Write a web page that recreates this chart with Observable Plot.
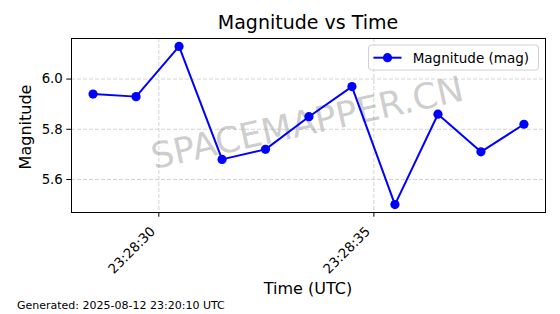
<!DOCTYPE html>
<html><head><meta charset="utf-8">
<script src="https://cdn.jsdelivr.net/npm/d3@7"></script>
<script src="https://cdn.jsdelivr.net/npm/@observablehq/plot@0.6"></script>
<style>body{margin:0;background:#fff}svg{display:block}</style>
</head><body><div id="chart"></div>
<script>
const times = ["2025-08-12T23:28:28.470Z","2025-08-12T23:28:29.470Z","2025-08-12T23:28:30.470Z","2025-08-12T23:28:31.470Z","2025-08-12T23:28:32.480Z","2025-08-12T23:28:33.490Z","2025-08-12T23:28:34.490Z","2025-08-12T23:28:35.490Z","2025-08-12T23:28:36.490Z","2025-08-12T23:28:37.490Z","2025-08-12T23:28:38.490Z"];
const magnitudes = [5.94,5.93,6.13,5.68,5.72,5.85,5.97,5.50,5.86,5.71,5.82];
const xTicks = ["2025-08-12T23:28:30Z","2025-08-12T23:28:35Z"];
const yTicks = [5.6,5.8,6.0];
const xDomain = ["2025-08-12T23:28:27.969Z","2025-08-12T23:28:38.991Z"];
const yDomain = [5.4685,6.1615];
const title = "Magnitude vs Time";
const xLabel = "Time (UTC)";
const yLabel = "Magnitude";
const seriesName = "Magnitude (mag)";
const watermark = "SPACEMAPPER.CN";
const footer = "Generated: 2025-08-12 23:20:10 UTC";

const data = times.map((t,i)=>({t:new Date(t), m:magnitudes[i]}));
const xTickDates = xTicks.map(d=>new Date(d));
const fmt = d3.utcFormat("%H:%M:%S");
const font = "DejaVu Sans";

const plot = Plot.plot({
  width:560, height:314,
  marginLeft:71, marginRight:15, marginTop:38, marginBottom:102,
  style:{fontFamily:font, fontSize:"13.3px", color:"black", background:"white"},
  x:{type:"utc", domain:xDomain.map(d=>new Date(d))},
  y:{domain:yDomain},
  marks:[
    Plot.gridX(xTickDates,{stroke:"#c8c8c8", strokeOpacity:1, strokeWidth:0.8, strokeDasharray:"4,2"}),
    Plot.gridY(yTicks,{stroke:"#c8c8c8", strokeOpacity:1, strokeWidth:0.8, strokeDasharray:"4,2"}),
    Plot.text([watermark],{frameAnchor:"middle", rotate:-12.5, fontSize:35.5, fill:"#888", fillOpacity:0.42, dx:-1, dy:-2}),
    Plot.line(data,{x:"t", y:"m", stroke:"#0000ff", strokeWidth:2}),
    Plot.dot(data,{x:"t", y:"m", r:4.6, fill:"#0000ff", stroke:null}),
    Plot.frame({stroke:"black", strokeWidth:1}),
    Plot.axisY(yTicks,{tickSize:4.7, tickPadding:4, tickFormat:d3.format(".1f"), fontSize:13.3, label:null}),
    Plot.axisX(xTickDates,{tickSize:4.7, tickFormat:()=>"", label:null}),
    Plot.text(xTickDates,{x:d=>d, text:d=>fmt(d), frameAnchor:"bottom", rotate:-45, textAnchor:"end", lineAnchor:"top", fontSize:13.3, dx:-9.5, dy:13})
  ]
});
document.getElementById("chart").appendChild(plot);
const svg = d3.select(plot);
const addText = (x,y,txt,size,anchor,rot)=>{
  const t = svg.append("text").attr("x",x).attr("y",y).attr("font-family",font)
    .attr("font-size",size).attr("text-anchor",anchor).attr("fill","black").text(txt);
  if (rot) t.attr("transform",`rotate(${rot},${x},${y})`);
  return t;
};
addText(308,29,title,19,"middle");
addText(308,293.5,xLabel,16,"middle");
addText(31,127,yLabel,16,"middle",-90);
addText(17,309,footer,11,"start");
const lg = svg.append("g");
lg.append("rect").attr("x",368.5).attr("y",45).attr("width",170).attr("height",25).attr("rx",3)
  .attr("fill","white").attr("fill-opacity",0.8).attr("stroke","#d0d0d0");
lg.append("line").attr("x1",373.5).attr("x2",401.5).attr("y1",57.7).attr("y2",57.7).attr("stroke","#0000ff").attr("stroke-width",2);
lg.append("circle").attr("cx",387.5).attr("cy",57.7).attr("r",4.6).attr("fill","#0000ff");
addText(412.7,62.5,seriesName,13.5,"start");
</script>
</body></html>
